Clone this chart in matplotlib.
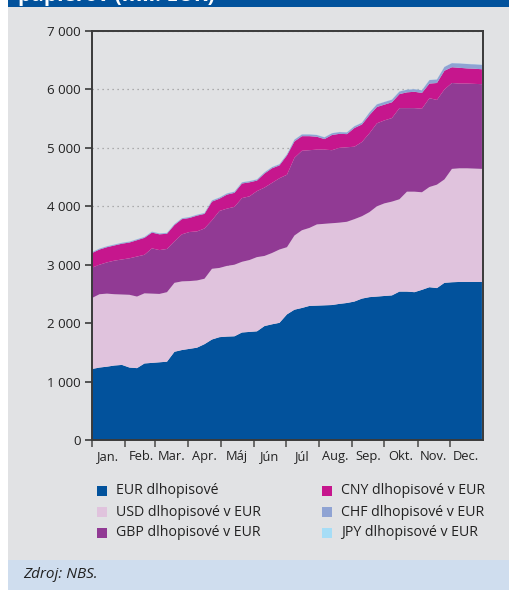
import numpy as np
import pandas as pd
import matplotlib
matplotlib.use("Agg")
import matplotlib.pyplot as plt
import matplotlib.dates as mdates
from matplotlib.patches import Rectangle
from matplotlib.ticker import FuncFormatter, FixedLocator

plt.rcParams['font.family'] = ['Open Sans', 'DejaVu Sans']

# ---- data (mil. EUR), weekly readings ----
dates = pd.date_range("2023-01-01", periods=53, freq="7D")
month_labels = ["Jan.", "Feb.", "Mar.", "Apr.", "Máj", "Jún", "Júl", "Aug.", "Sep.", "Okt.", "Nov.", "Dec."]
series_names = ["EUR dlhopisové", "USD dlhopisové v EUR", "GBP dlhopisové v EUR",
                "CNY dlhopisové v EUR", "CHF dlhopisové v EUR", "JPY dlhopisové v EUR"]

eur = [1215, 1240, 1255, 1275, 1285, 1240, 1230, 1310, 1320, 1330, 1340, 1510, 1540, 1560,
       1580, 1640, 1720, 1760, 1770, 1775, 1840, 1850, 1860, 1950, 1980, 2005, 2150, 2230,
       2260, 2295, 2300, 2305, 2310, 2330, 2345, 2370, 2420, 2445, 2455, 2465, 2475, 2540,
       2540, 2530, 2570, 2615, 2600, 2690, 2700, 2705, 2705, 2705, 2705]
usd = [1215, 1255, 1250, 1220, 1205, 1245, 1225, 1200, 1185, 1170, 1190, 1180, 1175, 1160,
       1150, 1120, 1210, 1185, 1210, 1225, 1210, 1230, 1270, 1200, 1220, 1255, 1150, 1270,
       1330, 1335, 1390, 1395, 1400, 1390, 1390, 1410, 1410, 1455, 1545, 1585, 1605, 1580,
       1710, 1720, 1670, 1715, 1770, 1770, 1940, 1945, 1945, 1940, 1935]
gbp = [520, 505, 535, 575, 600, 625, 685, 660, 775, 750, 740, 710, 805, 840, 840, 860, 830,
       975, 980, 990, 1090, 1090, 1130, 1170, 1200, 1220, 1240, 1330, 1360, 1330, 1280, 1270,
       1250, 1280, 1275, 1240, 1270, 1350, 1420, 1420, 1430, 1560, 1430, 1430, 1430, 1520,
       1450, 1540, 1470, 1450, 1450, 1450, 1450]
cny = [250, 260, 260, 260, 270, 270, 280, 290, 270, 270, 260, 280, 260, 240, 270, 250, 320,
       210, 240, 240, 250, 240, 180, 240, 250, 220, 330, 280, 250, 240, 220, 180, 260, 240,
       225, 320, 300, 310, 280, 270, 270, 240, 270, 280, 270, 250, 290, 320, 270, 270, 260,
       260, 255]
chf = [15, 15, 15, 15, 15, 15, 15, 15, 15, 15, 15, 15, 15, 15, 15, 15, 20, 20, 20, 20, 20,
       20, 20, 20, 20, 20, 20, 30, 30, 30, 30, 30, 30, 30, 30, 30, 30, 45, 45, 45, 45, 45,
       45, 45, 45, 60, 60, 65, 70, 75, 75, 75, 75]
jpy = [3] * 53

colors = ["#02529C", "#E0C3DD", "#913A94", "#C6168D", "#8FA3D3", "#A6DDF6"]

# ---- figure ----
W, H = 510, 590
fig = plt.figure(figsize=(W / 100, H / 100), dpi=100)
fig.patch.set_facecolor("white")

def fx(px):
    return px / W

def fy(py):
    return 1 - py / H

bg = "#E1E2E4"
fig.add_artist(Rectangle((fx(8), fy(560)), fx(502), (560 - 7) / H, transform=fig.transFigure,
                         facecolor=bg, edgecolor="none", zorder=0))
fig.add_artist(Rectangle((fx(8), fy(7)), fx(502), 7 / H, transform=fig.transFigure,
                         facecolor="#02529C", edgecolor="none", zorder=0))
fig.add_artist(Rectangle((fx(8), 0), fx(502), 30 / H, transform=fig.transFigure,
                         facecolor="#CFDDEE", edgecolor="none", zorder=0))
fig.text(fx(18), fy(0.5), "papierov (mil. EUR)", color="white", fontsize=15, fontweight="bold",
         va="baseline", ha="left")

ax = fig.add_axes([fx(92), fy(440), fx(391), 409 / H])
ax.set_facecolor(bg)
ax.stackplot(dates, eur, usd, gbp, cny, chf, jpy, colors=colors, linewidth=0)

ax.set_xlim(pd.Timestamp("2023-01-01"), pd.Timestamp("2024-01-01"))
ax.set_ylim(0, 7000)
ax.set_yticks(np.arange(0, 7001, 1000))
ax.yaxis.set_major_formatter(FuncFormatter(lambda v, p: f"{int(v):,}".replace(",", " ")))
ax.grid(axis="y", linestyle=(0, (1, 3)), color="#9A9A9A", linewidth=0.9)
ax.set_axisbelow(True)

month_starts = pd.date_range("2023-01-01", periods=12, freq="MS")
mids = month_starts + pd.Timedelta(days=15)
ax.xaxis.set_major_locator(FixedLocator(mdates.date2num(month_starts)))
ax.xaxis.set_major_formatter(FuncFormatter(lambda v, p: ""))
ax.set_xticks(mdates.date2num(mids), labels=month_labels, minor=True)

for s in ax.spines.values():
    s.set_color("#3A3A3A")
    s.set_linewidth(1.4)
ax.tick_params(axis="y", length=5, width=1.2, color="#3A3A3A", labelsize=9.6, labelcolor="#222222", pad=3)
ax.tick_params(axis="x", which="major", length=5, width=1.2, color="#555555")
ax.tick_params(axis="x", which="minor", length=0, labelsize=9.3, labelcolor="#222222", pad=7)

# legend
rows = [491, 512, 533]
for i, (name, c) in enumerate(zip(series_names, colors)):
    col, row = divmod(i, 3)
    sx = 97 if col == 0 else 322
    tx = 116 if col == 0 else 341
    cy = rows[row]
    fig.add_artist(Rectangle((fx(sx), fy(cy + 5)), fx(10.5), 10.5 / H, transform=fig.transFigure,
                             facecolor=c, edgecolor="none"))
    fig.text(fx(tx), fy(cy), name, fontsize=10.2, color="#222222", va="center", ha="left")

fig.text(fx(23), fy(575), "Zdroj: NBS.", fontsize=11, style="italic", color="#222222",
         va="center", ha="left")

fig.savefig("out.png", dpi=100)
